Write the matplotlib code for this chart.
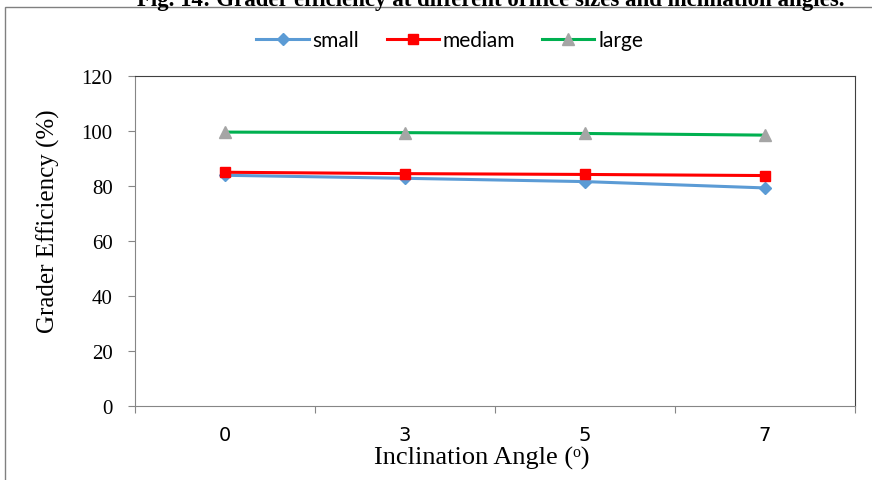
import matplotlib
matplotlib.use("Agg")
import matplotlib.pyplot as plt
from matplotlib.patches import Rectangle

# data
angles = ["0", "3", "5", "7"]
small = [83.9, 82.8, 81.6, 79.3]
mediam = [85.0, 84.5, 84.2, 83.8]
large = [99.6, 99.4, 99.1, 98.5]
yticks = [0, 20, 40, 60, 80, 100, 120]

W, H = 872, 481
fig = plt.figure(figsize=(W / 100, H / 100), dpi=100)
ax = fig.add_axes([135 / W, 1 - 407 / H, (855 - 135) / W, (407 - 77) / H])

xs = [0.5 + i for i in range(len(angles))]
ax.plot(xs, small, color="#5B9BD5", lw=2.2, marker="D", ms=6, label="small")
ax.plot(xs, mediam, color="#FF0000", lw=2.2, marker="s", ms=7.5, label="mediam")
ax.plot(xs, large, color="#00B050", lw=2.2, marker="^", ms=8,
        markerfacecolor="#A5A5A5", markeredgecolor="#A5A5A5", label="large")

ax.set_xlim(0, len(angles))
ax.set_ylim(0, 120)
ax.set_yticks(yticks)
ax.set_yticklabels([str(v) for v in yticks], family="Liberation Serif", fontsize=15)
ax.set_xticks(range(len(angles) + 1))
ax.set_xticklabels([])
ax.set_xticks(xs, minor=True)
ax.set_xticklabels(angles, minor=True, family=["Liberation Sans Narrow", "DejaVu Sans"], fontsize=14)
ax.tick_params(axis="x", which="minor", length=0, pad=14)
ax.tick_params(axis="x", which="major", direction="out", length=5, color="#868686")
ax.tick_params(axis="y", direction="out", length=5, color="#868686", pad=11)

for s in ("left", "bottom"):
    ax.spines[s].set_color("#868686")
for s in ("top", "right"):
    ax.spines[s].set_color("#404040")
    ax.spines[s].set_linewidth(0.8)

ax.set_ylabel("Grader Efficiency (%)", family="Liberation Serif", fontsize=18, va="center")
ax.yaxis.set_label_coords((48 - 135) / 720, (407 - 221) / 330)
ax.set_xlabel("Inclination Angle (ᵒ)", family=["Liberation Serif", "DejaVu Serif"],
              fontsize=19, va="baseline")
ax.xaxis.set_label_coords((482 - 135) / 720, (407 - 465) / 330)

ax.legend(loc="center", bbox_to_anchor=(450 / W, 1 - 41 / H), bbox_transform=fig.transFigure,
          ncol=3, frameon=False, handlelength=2.5, handletextpad=0.2, columnspacing=1.3,
          prop={"family": "Lato", "size": 15})

# outer frame and clipped caption
fig.patches.append(Rectangle((5 / W, -0.1), 1.2, 1 - 8 / H + 0.1, transform=fig.transFigure,
                             fill=False, edgecolor="#808080", lw=1))
fig.text(491 / W, 1 - 6 / H, "Fig. 14: Grader efficiency at different orifice sizes and inclination angles.",
         ha="center", va="baseline", family="Liberation Serif", weight="bold", fontsize=16.5)

fig.savefig("out.png", dpi=100)
